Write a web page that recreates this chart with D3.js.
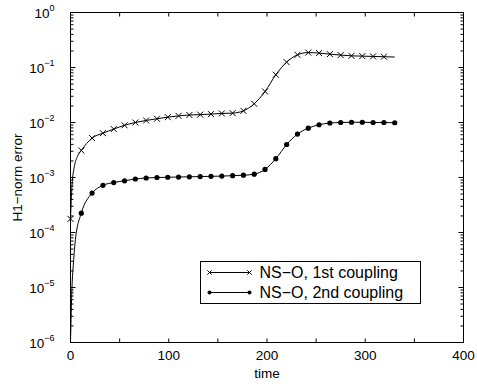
<!DOCTYPE html>
<html>
<head>
<meta charset="utf-8">
<script src="https://cdn.jsdelivr.net/npm/d3@7"></script>
<style>
  body { margin: 0; background: #fff; }
  svg { font-family: "Liberation Sans", Arial, Helvetica, sans-serif; }
</style>
</head>
<body>
<svg id="chart" width="477" height="387"></svg>
<script>
// sample times of the markers
var time = [0, 11, 22, 33, 44, 55, 66, 77, 88, 99, 110, 121, 132, 143, 154, 165,
  176, 187, 198, 209, 220, 231, 242, 253, 264, 275, 286, 297, 308, 319, 330];

// NS-O, 1st coupling
var err1 = [1.77e-4, 3.1e-3, 5.2e-3, 6.4e-3, 7.6e-3, 8.9e-3, 1.0e-2, 1.09e-2, 1.17e-2, 1.25e-2,
  1.32e-2, 1.37e-2, 1.39e-2, 1.42e-2, 1.46e-2, 1.48e-2, 1.63e-2, 2.19e-2, 3.66e-2, 7.4e-2,
  0.125, 0.170, 0.187, 0.183, 0.175, 0.168, 0.163, 0.161, 0.159, 0.157, 0.155];

// NS-O, 2nd coupling
var err2 = [1e-6, 2.25e-4, 5.2e-4, 7.2e-4, 8.1e-4, 8.7e-4, 9.4e-4, 9.8e-4, 1.0e-3, 1.01e-3,
  1.02e-3, 1.03e-3, 1.04e-3, 1.05e-3, 1.06e-3, 1.08e-3, 1.1e-3, 1.15e-3, 1.4e-3, 2.2e-3,
  3.98e-3, 6.15e-3, 7.9e-3, 9.1e-3, 9.8e-3, 1.0e-2, 1.01e-2, 1.01e-2, 1.0e-2, 1.0e-2, 9.9e-3];

// extra curve points read off the steep start (no markers there)
var early1T = [1.5, 4, 7], early1V = [7e-4, 1.6e-3, 2.4e-3];
var early2T = [1.5, 3, 5], early2V = [1e-5, 2.8e-5, 7.5e-5];

// which markers are drawn: [first index, last index]
var marks1 = [0, 29], marks2 = [1, 30];

var xTicks = [0, 50, 100, 150, 200, 250, 300, 350, 400];
var xLabels = [0, 100, 200, 300, 400];
var yExp = [0, -1, -2, -3, -4, -5, -6];
var legendNames = ["NS\u2212O, 1st coupling", "NS\u2212O, 2nd coupling"];

var svg = d3.select("#chart");
var margin = {top: 12.5, right: 13.5, bottom: 44.5, left: 70.5},
  width = +svg.attr("width") - margin.left - margin.right,
  height = +svg.attr("height") - margin.top - margin.bottom;

var x = d3.scaleLinear().domain([0, 400]).range([0, width]);
var y = d3.scaleLog().domain([1e-6, 1]).range([height, 0]);

var g = svg.append("g")
  .attr("transform", "translate(" + margin.left + "," + margin.top + ")");

g.append("clipPath").attr("id", "clip")
  .append("rect").attr("width", width).attr("height", height);

// log minor ticks
var minor = [];
yExp.slice(0, -1).forEach(function(e) {
  for (var k = 2; k <= 9; k++) { minor.push(k * Math.pow(10, e - 1)); }
});
var major = yExp.map(function(e) { return Math.pow(10, e); });

function tickLines(sel, vals, len, side) {
  sel.selectAll(null).data(vals).enter().append("line")
    .attr("x1", side === "l" ? 0 : width)
    .attr("x2", side === "l" ? len : width - len)
    .attr("y1", function(d) { return y(d); })
    .attr("y2", function(d) { return y(d); })
    .attr("stroke", "#000").attr("stroke-width", 1);
}
var ticksG = g.append("g");
tickLines(ticksG, major, 5, "l");
tickLines(ticksG, major, 5, "r");
tickLines(ticksG, minor, 3, "l");
tickLines(ticksG, minor, 3, "r");

ticksG.selectAll(null).data(xTicks.concat(xTicks)).enter().append("line")
  .attr("x1", function(d) { return x(d); })
  .attr("x2", function(d) { return x(d); })
  .attr("y1", function(d, i) { return i < xTicks.length ? height : 0; })
  .attr("y2", function(d, i) { return i < xTicks.length ? height - 4 : 4; })
  .attr("stroke", "#000");

// box
g.append("rect")
  .attr("width", width).attr("height", height)
  .attr("fill", "none").attr("stroke", "#000").attr("stroke-width", 1);

// x tick labels
g.selectAll(".xl").data(xLabels).enter().append("text")
  .attr("x", function(d) { return x(d); })
  .attr("y", height + 17.5)
  .attr("text-anchor", "middle")
  .attr("font-size", 13.5)
  .text(function(d) { return d; });

// y tick labels 10^e
var yl = g.selectAll(".yl").data(yExp).enter().append("text")
  .attr("x", -16)
  .attr("y", function(d) { return y(Math.pow(10, d)) + 5; })
  .attr("text-anchor", "end")
  .attr("font-size", 13.5);
yl.append("tspan").text("10");
yl.append("tspan").attr("dy", -7).attr("font-size", 9)
  .text(function(d) { return d === 0 ? "0" : "\u2212" + (-d); });

// axis titles
g.append("text")
  .attr("x", width / 2).attr("y", height + 35.5)
  .attr("text-anchor", "middle").attr("font-size", 13.5)
  .text("time");
g.append("text")
  .attr("transform", "translate(-49," + (height / 2) + ") rotate(-90)")
  .attr("text-anchor", "middle").attr("font-size", 13.5)
  .text("H1\u2212norm error");

// curves
function points(ts, vs, eT, eV) {
  var pts = ts.map(function(t, i) { return [t, vs[i]]; });
  var extra = eT.map(function(t, i) { return [t, eV[i]]; });
  return pts.slice(0, 1).concat(extra, pts.slice(1));
}
var line = d3.line()
  .x(function(d) { return x(d[0]); })
  .y(function(d) { return y(d[1]); })
  .curve(d3.curveMonotoneX);

var plot = g.append("g").attr("clip-path", "url(#clip)");
plot.append("path")
  .attr("d", line(points(time, err1, early1T, early1V)))
  .attr("fill", "none").attr("stroke", "#000").attr("stroke-width", 1);
plot.append("path")
  .attr("d", line(points(time, err2, early2T, early2V)))
  .attr("fill", "none").attr("stroke", "#000").attr("stroke-width", 1);

function cross(sel, cx, cy, r) {
  sel.append("path")
    .attr("d", "M" + (cx - r) + "," + (cy - r) + "L" + (cx + r) + "," + (cy + r) +
      "M" + (cx - r) + "," + (cy + r) + "L" + (cx + r) + "," + (cy - r))
    .attr("stroke", "#000").attr("stroke-width", 1).attr("fill", "none");
}
var mk = g.append("g");
time.forEach(function(t, i) {
  if (i >= marks1[0] && i <= marks1[1]) cross(mk, x(t), y(err1[i]), 3);
  if (i >= marks2[0] && i <= marks2[1]) {
    mk.append("circle").attr("cx", x(t)).attr("cy", y(err2[i])).attr("r", 2.6).attr("fill", "#000");
  }
});

// legend
var lg = svg.append("g").attr("transform", "translate(200.5,261.5)");
lg.append("rect").attr("width", 220).attr("height", 42)
  .attr("fill", "#fff").attr("stroke", "#000");
legendNames.forEach(function(name, i) {
  var ly = 11 + i * 20;
  lg.append("line").attr("x1", 9).attr("x2", 49).attr("y1", ly).attr("y2", ly)
    .attr("stroke", "#000");
  if (i === 0) { cross(lg, 9, ly, 2.2); cross(lg, 49, ly, 2.2); }
  else {
    lg.append("circle").attr("cx", 9).attr("cy", ly).attr("r", 2).attr("fill", "#000");
    lg.append("circle").attr("cx", 49).attr("cy", ly).attr("r", 2).attr("fill", "#000");
  }
  lg.append("text").attr("x", 59).attr("y", ly + 5.5)
    .attr("font-size", 16).text(name);
});
</script>
</body>
</html>
